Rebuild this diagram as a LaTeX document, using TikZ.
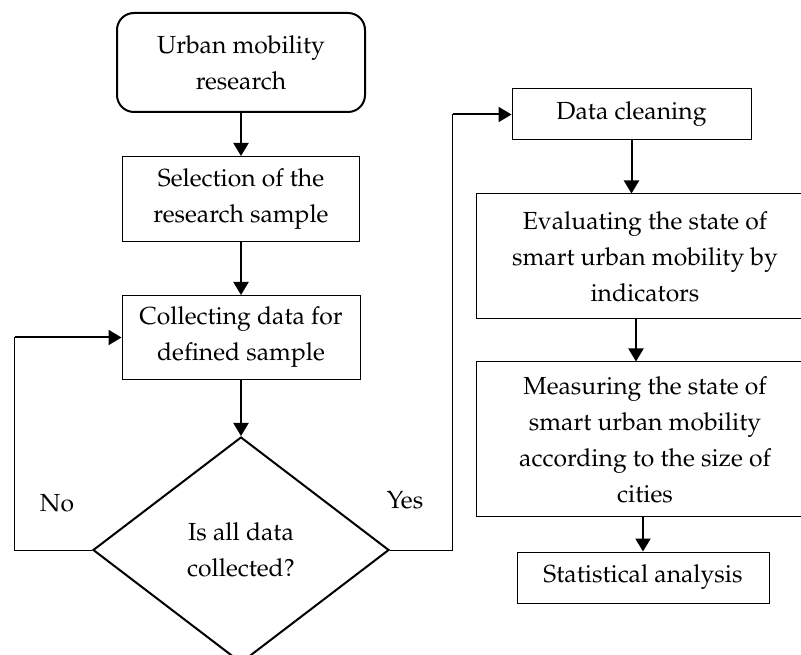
\documentclass[tikz,border=0pt]{standalone}
\usepackage[T1]{fontenc}
\usepackage{mathpazo}
\usepackage{tikz}
\usetikzlibrary{positioning}
\usetikzlibrary{shapes.geometric}
\usetikzlibrary{arrows.meta}

\begin{document}
\begin{tikzpicture}[x=1pt,y=1pt]
		\tikzset{edge/.style = {-{Triangle[length=13pt,width=15pt]}, line width=2pt}}
		\tikzset{txt/.style = {align=center, inner sep=2pt, font=\fontsize{24.7}{36}\selectfont}}
		\tikzset{box/.style = {txt, draw, line width=1pt}}
		\useasboundingbox (0,0) rectangle (801,654);
		\clip (0,0) rectangle (801,654);
		\node[box, rounded corners=17pt, line width=2pt, minimum width=248pt, minimum height=99pt] (start) at (241,591.5) {Urban mobility\\research};
		\node[box, minimum width=237pt, minimum height=85pt, below=43pt of start] (sample) {Selection of the\\research sample};
		\node[box, minimum width=238pt, minimum height=84pt, below=53pt of sample] (collect) {Collecting data for\\defined sample};
		\node[txt, draw, diamond, line width=2pt, minimum width=296pt, minimum height=226pt, below=56pt of collect] (check) {Is all data\\collected?};
		\node[txt] (nolabel) at (57,151) {No};
		\node[txt] (yeslabel) at (405,154) {Yes};
		\node[box, minimum width=239pt, minimum height=51pt] (clean) at (631.5,539.5) {Data cleaning};
		\node[box, minimum width=338pt, minimum height=125pt, below=53pt of clean, xshift=13.5pt] (eval) {Evaluating the state of\\smart urban mobility by\\indicators};
		\node[box, minimum width=338pt, minimum height=155pt, below=42pt of eval] (measure) {Measuring the state of\\smart urban mobility\\according to the size of\\cities};
		\node[box, minimum width=252pt, minimum height=51pt, below=34pt of measure, xshift=-2pt] (stat) {Statistical analysis};
		\coordinate[left=107pt of collect.west] (noturn);
		\coordinate[left=59pt of clean.west] (yesturn);
		\draw[edge] (start) -- (sample);
		\draw[edge] (sample) -- (collect);
		\draw[edge] (collect) -- (check);
		\draw[line width=1pt] (check.west) -| (noturn);
		\draw[edge] (noturn) -- (collect.west);
		\draw[line width=1pt] (check.east) -| (yesturn);
		\draw[edge] (yesturn) -- (clean.west);
		\draw[edge] (clean.south) -- (clean.south |- eval.north);
		\draw[edge] ([xshift=-9pt]eval.south) -- ([xshift=-9pt]measure.north);
		\draw[edge] (measure.south -| stat) -- (stat.north);
	\end{tikzpicture}
\end{document}
